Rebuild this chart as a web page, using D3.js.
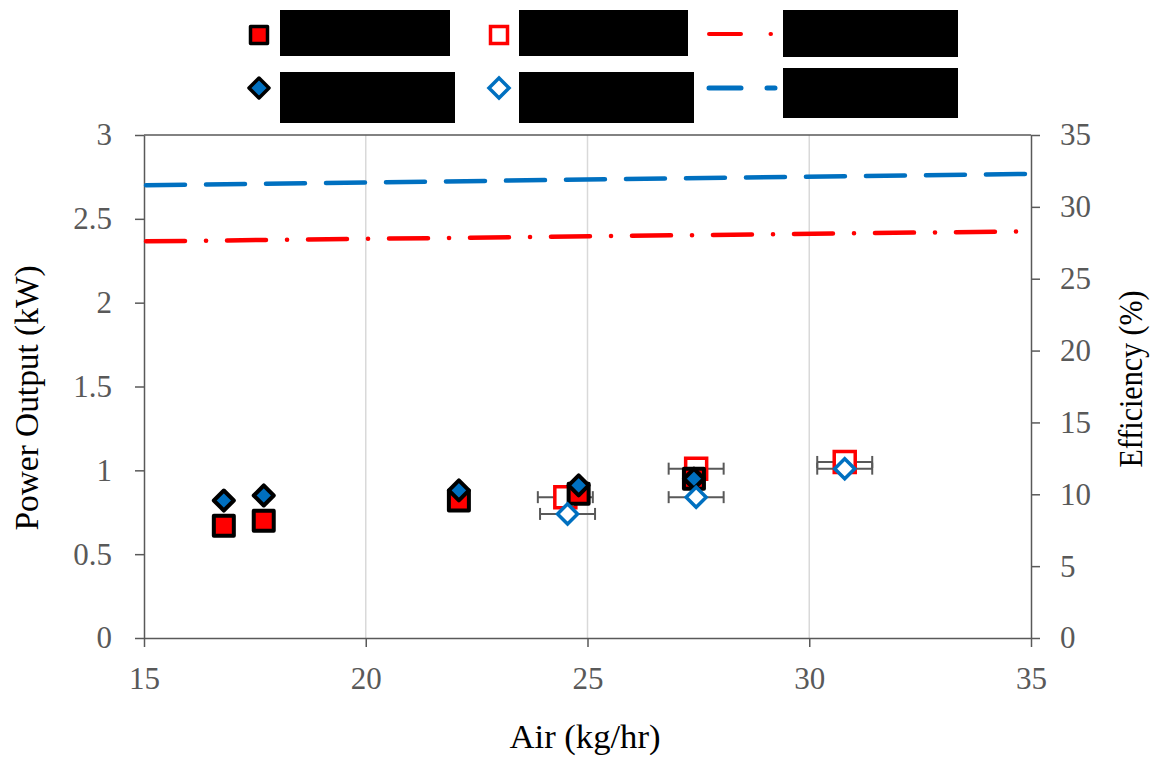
<!DOCTYPE html>
<html>
<head>
<meta charset="utf-8">
<script src="https://cdn.jsdelivr.net/npm/d3@7"></script>
<style>
    body { margin: 0; background: #fff; }
    text { font-family: "Liberation Serif", "DejaVu Serif", serif; }
</style>
</head>
<body>
<div id="chart"></div>
<script>

// Data

const filledSquareX = [16.8, 17.7, 22.1, 24.8, 27.4];
const filledSquareY = [0.67, 0.70, 0.82, 0.86, 0.95];

const filledDiamondX = [16.8, 17.7, 22.1, 24.8, 27.4];
const filledDiamondY = [0.82, 0.85, 0.88, 0.91, 0.95];

const openSquareX = [24.5, 27.45, 30.8];
const openSquareY = [0.84, 1.01, 1.05];
const openSquareErr = [0.62, 0.62, 0.62];

const openDiamondX = [24.55, 27.45, 30.8];
const openDiamondY = [0.74, 0.84, 1.01];
const openDiamondErr = [0.62, 0.62, 0.62];

const redLineX = [15, 35];
const redLineEff = [27.6, 28.3];

const blueLineX = [15, 35];
const blueLineEff = [31.5, 32.3];

const xTicks = [15, 20, 25, 30, 35];
const yTicks = [0, 0.5, 1, 1.5, 2, 2.5, 3];
const y2Ticks = [0, 5, 10, 15, 20, 25, 30, 35];

// Configure

const width = 1157, height = 757;
const margin = { top: 135, bottom: 119, left: 144, right: 126 };

const design = {
    red: "#ff0000",
    blue: "#0070c0",
    axis: "#595959",
    grid: "#d9d9d9",
    label: "#595959",
};

const svg = d3.select("#chart").append("svg")
    .attr("width", width)
    .attr("height", height);

// Scales

const x = d3.scaleLinear().domain([15, 35]).range([margin.left, width - margin.right]);
const y = d3.scaleLinear().domain([0, 3]).range([height - margin.bottom, margin.top]);
const y2 = d3.scaleLinear().domain([0, 35]).range([height - margin.bottom, margin.top]);

// Grid

svg.append("g")
    .selectAll("line")
    .data(xTicks.slice(1, -1))
    .join("line")
    .attr("x1", d => x(d)).attr("x2", d => x(d))
    .attr("y1", y(0)).attr("y2", y(3))
    .attr("stroke", design.grid)
    .attr("stroke-width", 1.5);

svg.append("line")
    .attr("x1", x(15)).attr("x2", x(35))
    .attr("y1", y(3)).attr("y2", y(3))
    .attr("stroke", design.axis)
    .attr("stroke-width", 1.5);

// Axes

function styleAxis(g) {
    g.select(".domain").attr("stroke", design.axis).attr("stroke-width", 1.5);
    g.selectAll(".tick line").attr("stroke", design.axis).attr("stroke-width", 1.5);
    g.selectAll(".tick text")
        .attr("fill", design.label)
        .style("font-size", "31px")
        .style("font-family", "'Liberation Serif', serif");
}

svg.append("g")
    .attr("transform", "translate(0," + y(0) + ")")
    .call(d3.axisBottom(x).tickValues(xTicks).tickSize(9).tickSizeOuter(0).tickPadding(20))
    .call(styleAxis);

svg.append("g")
    .attr("transform", "translate(" + x(15) + ",0)")
    .call(d3.axisLeft(y).tickValues(yTicks).tickSize(9).tickSizeOuter(0).tickPadding(23).tickFormat(d3.format("")))
    .call(styleAxis);

svg.append("g")
    .attr("transform", "translate(" + x(35) + ",0)")
    .call(d3.axisRight(y2).tickValues(y2Ticks).tickSize(9).tickSizeOuter(0).tickPadding(20))
    .call(styleAxis);

// Axis titles

svg.append("text")
    .attr("x", 585)
    .attr("y", 748)
    .attr("text-anchor", "middle")
    .attr("textLength", 151)
    .attr("lengthAdjust", "spacingAndGlyphs")
    .style("font-size", "33px")
    .text("Air (kg/hr)");

svg.append("text")
    .attr("transform", "translate(38,398) rotate(-90)")
    .attr("text-anchor", "middle")
    .attr("textLength", 265)
    .attr("lengthAdjust", "spacingAndGlyphs")
    .style("font-size", "33px")
    .text("Power Output (kW)");

svg.append("text")
    .attr("transform", "translate(1142,379) rotate(-90)")
    .attr("text-anchor", "middle")
    .attr("textLength", 177)
    .attr("lengthAdjust", "spacingAndGlyphs")
    .style("font-size", "33px")
    .text("Efficiency (%)");

// Efficiency lines

const effLine = d3.line()
    .x(d => x(d[0]))
    .y(d => y2(d[1]));

svg.append("path")
    .attr("d", effLine(d3.zip(redLineX, redLineEff)))
    .attr("fill", "none")
    .attr("stroke", design.red)
    .attr("stroke-width", 4.5)
    .attr("stroke-linecap", "round")
    .attr("stroke-dasharray", "39 21 0.1 20.9")
    .attr("stroke-dashoffset", -2);

svg.append("path")
    .attr("d", effLine(d3.zip(blueLineX, blueLineEff)))
    .attr("fill", "none")
    .attr("stroke", design.blue)
    .attr("stroke-width", 4.5)
    .attr("stroke-linecap", "round")
    .attr("stroke-dasharray", "39 21")
    .attr("stroke-dashoffset", -2);

// Markers

const diamondPath = r => `M0,${-r}L${r},0L0,${r}L${-r},0Z`;

function errorBars(xs, ys, errs) {
    const g = svg.append("g")
        .attr("stroke", design.axis)
        .attr("stroke-width", 2);
    const rows = d3.zip(xs, ys, errs);
    g.selectAll(".bar").data(rows).join("line")
        .attr("x1", d => x(d[0] - d[2])).attr("x2", d => x(d[0] + d[2]))
        .attr("y1", d => y(d[1])).attr("y2", d => y(d[1]));
    g.selectAll(".capL").data(rows).join("line")
        .attr("x1", d => x(d[0] - d[2])).attr("x2", d => x(d[0] - d[2]))
        .attr("y1", d => y(d[1]) - 6).attr("y2", d => y(d[1]) + 6);
    g.selectAll(".capR").data(rows).join("line")
        .attr("x1", d => x(d[0] + d[2])).attr("x2", d => x(d[0] + d[2]))
        .attr("y1", d => y(d[1]) - 6).attr("y2", d => y(d[1]) + 6);
}

errorBars(openSquareX, openSquareY, openSquareErr);
errorBars(openDiamondX, openDiamondY, openDiamondErr);

svg.append("g").selectAll("path")
    .data(d3.zip(openSquareX, openSquareY))
    .join("path")
    .attr("transform", d => `translate(${x(d[0])},${y(d[1])})`)
    .attr("d", d3.symbol().type(d3.symbolSquare).size(21 * 21))
    .attr("fill", "#fff")
    .attr("stroke", design.red)
    .attr("stroke-width", 3.5);

svg.append("g").selectAll("path")
    .data(d3.zip(filledSquareX, filledSquareY))
    .join("path")
    .attr("transform", d => `translate(${x(d[0])},${y(d[1])})`)
    .attr("d", d3.symbol().type(d3.symbolSquare).size(20 * 20))
    .attr("fill", design.red)
    .attr("stroke", "#000")
    .attr("stroke-width", 4)
    .attr("stroke-linejoin", "round");

svg.append("g").selectAll("path")
    .data(d3.zip(filledDiamondX, filledDiamondY))
    .join("path")
    .attr("transform", d => `translate(${x(d[0])},${y(d[1])})`)
    .attr("d", diamondPath(10))
    .attr("fill", design.blue)
    .attr("stroke", "#000")
    .attr("stroke-width", 4)
    .attr("stroke-linejoin", "round");

svg.append("g").selectAll("path")
    .data(d3.zip(openDiamondX, openDiamondY))
    .join("path")
    .attr("transform", d => `translate(${x(d[0])},${y(d[1])})`)
    .attr("d", diamondPath(10))
    .attr("fill", "#fff")
    .attr("stroke", design.blue)
    .attr("stroke-width", 3.5);

// Legend (labels hidden behind black boxes, as in the source)

const legend = svg.append("g");

legend.append("path")
    .attr("transform", "translate(259,35)")
    .attr("d", d3.symbol().type(d3.symbolSquare).size(17 * 17))
    .attr("fill", design.red).attr("stroke", "#000").attr("stroke-width", 3.5)
    .attr("stroke-linejoin", "round");

legend.append("path")
    .attr("transform", "translate(499,35)")
    .attr("d", d3.symbol().type(d3.symbolSquare).size(17 * 17))
    .attr("fill", "#fff").attr("stroke", design.red).attr("stroke-width", 3.5);

legend.append("path")
    .attr("transform", "translate(259,88)")
    .attr("d", diamondPath(10))
    .attr("fill", design.blue).attr("stroke", "#000").attr("stroke-width", 3.5)
    .attr("stroke-linejoin", "round");

legend.append("path")
    .attr("transform", "translate(499,88)")
    .attr("d", diamondPath(10))
    .attr("fill", "#fff").attr("stroke", design.blue).attr("stroke-width", 3.5);

legend.append("line")
    .attr("x1", 709).attr("x2", 771).attr("y1", 34).attr("y2", 34)
    .attr("stroke", design.red).attr("stroke-width", 4).attr("stroke-linecap", "round")
    .attr("stroke-dasharray", "32 29.5 0.5 20");

legend.append("line")
    .attr("x1", 709).attr("x2", 775).attr("y1", 88).attr("y2", 88)
    .attr("stroke", design.blue).attr("stroke-width", 5).attr("stroke-linecap", "round")
    .attr("stroke-dasharray", "32 26 8 20");

const boxes = [
    [280, 10, 170, 46], [519, 10, 169, 46], [783, 10, 175, 47],
    [280, 72, 175, 51], [519, 72, 175, 51], [783, 68, 175, 50],
];

legend.selectAll("rect")
    .data(boxes)
    .join("rect")
    .attr("x", d => d[0]).attr("y", d => d[1])
    .attr("width", d => d[2]).attr("height", d => d[3])
    .attr("fill", "#000");

</script>
</body>
</html>
